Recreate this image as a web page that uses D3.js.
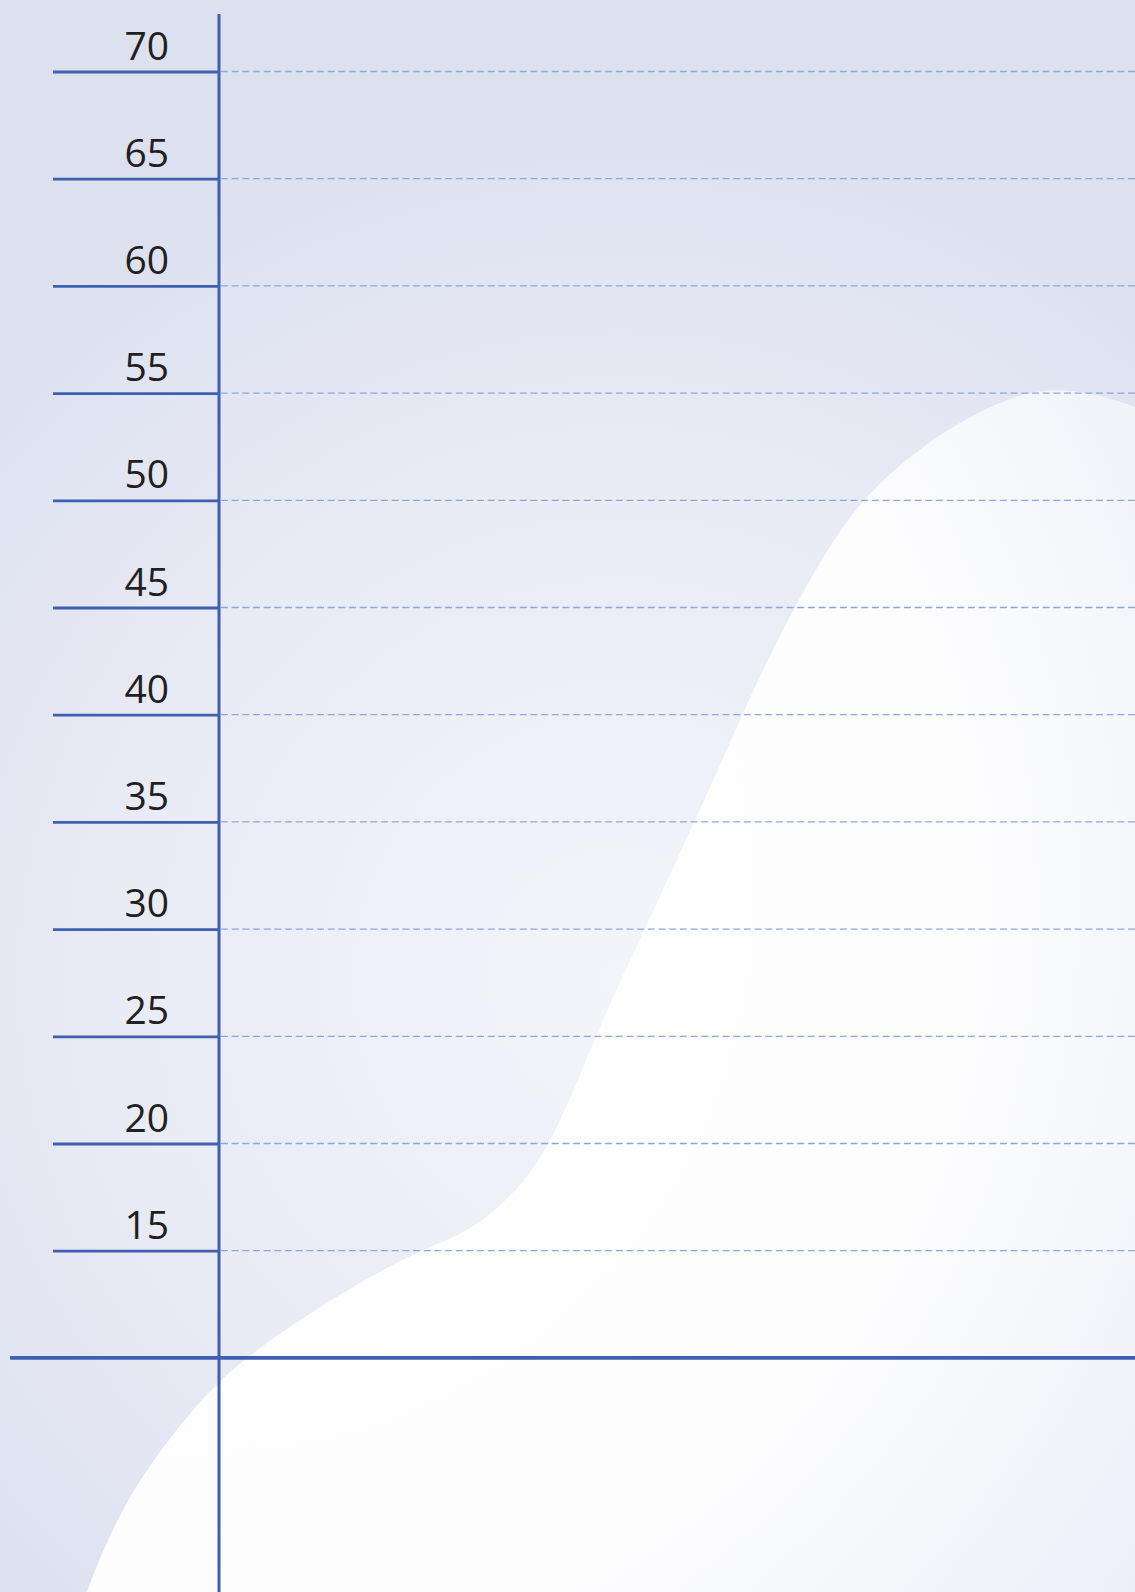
<!DOCTYPE html>
<html>
<head>
<meta charset="utf-8">
<script src="https://cdn.jsdelivr.net/npm/d3@7"></script>
<style>
  html, body { margin: 0; padding: 0; background: #dde1ef; }
  svg { display: block; }
</style>
</head>
<body>
<svg id="chart" width="1135" height="1592"></svg>
<script>
// Y axis tick values
const yTicks = [15, 20, 25, 30, 35, 40, 45, 50, 55, 60, 65, 70];

// Area series: position along the horizontal axis and value
const positions = [-16.3, -14.6, -10.0, -2.8, 2.3, 12.4, 21.6, 26.6, 31.8, 36.5, 41.5, 47.6,
                   54.7, 59.8, 65.6, 70.0, 76.2, 83.4, 90.7, 100, 104.9];
const values    = [-3.6, -0.9, 3.7, 7.7, 9.9, 12.8, 15.0, 15.7, 17.4, 20.0, 25.5, 31.0,
                   37.6, 42.6, 47.2, 50.0, 52.4, 54.3, 55.5, 54.5, 53.3];
const baseValue = -20;

const W = 1135, H = 1592;
const axisX = 219;

const svg = d3.select("#chart");
const defs = svg.append("defs");

// Soft radial backdrop
const bg = defs.append("radialGradient").attr("id", "bgGrad")
  .attr("gradientUnits", "userSpaceOnUse")
  .attr("cx", 620).attr("cy", 980).attr("r", 900);
bg.append("stop").attr("offset", "0").attr("stop-color", "#f4f5fa");
bg.append("stop").attr("offset", "0.55").attr("stop-color", "#e9ebf5");
bg.append("stop").attr("offset", "1").attr("stop-color", "#dce0ef");

// Area fill: white fading to pale blue toward the far edge
const ag = defs.append("radialGradient").attr("id", "areaGrad")
  .attr("gradientUnits", "userSpaceOnUse")
  .attr("cx", 200).attr("cy", 900).attr("r", 1400);
ag.append("stop").attr("offset", "0").attr("stop-color", "#ffffff");
ag.append("stop").attr("offset", "0.55").attr("stop-color", "#fdfdfe");
ag.append("stop").attr("offset", "0.95").attr("stop-color", "#e6e9f4");

svg.append("rect").attr("width", W).attr("height", H).attr("fill", "url(#bgGrad)");

const x = d3.scaleLinear().domain([0, 100]).range([axisX, W]);
const y = d3.scaleLinear().domain([10, 70]).range([1357.9, 71.5]);

const series = positions.map((p, i) => ({ p, v: values[i] }));

const area = d3.area()
  .x(d => x(d.p))
  .y0(() => y(baseValue))
  .y1(d => y(d.v))
  .curve(d3.curveBasis);

svg.append("path")
  .datum(series)
  .attr("d", area)
  .attr("fill", "url(#areaGrad)");

// Dashed gridlines
svg.append("g").selectAll("line")
  .data(yTicks)
  .join("line")
  .attr("x1", axisX + 2).attr("x2", W)
  .attr("y1", d => y(d)).attr("y2", d => y(d))
  .attr("stroke", "#88a9dd")
  .attr("stroke-width", 1.3)
  .attr("stroke-dasharray", "7 3.67");

// Left axis with long ticks and labels sitting on them
const yAxis = d3.axisLeft(y).tickValues(yTicks).tickSize(166).tickPadding(0);
const gAxis = svg.append("g")
  .attr("transform", `translate(${axisX},0)`)
  .call(yAxis);
gAxis.select(".domain").remove();
gAxis.selectAll(".tick line")
  .attr("stroke", "#3f5fb1")
  .attr("stroke-width", 2.8);
gAxis.selectAll(".tick text")
  .attr("x", -50)
  .attr("dy", -12.5)
  .attr("text-anchor", "end")
  .attr("fill", "#231f20")
  .style("font-family", "'Open Sans', 'Noto Sans', sans-serif")
  .style("font-weight", 500)
  .style("font-size", "39px");

// Vertical axis line
svg.append("line")
  .attr("x1", axisX).attr("x2", axisX)
  .attr("y1", 14).attr("y2", H)
  .attr("stroke", "#3f5fb1").attr("stroke-width", 3);

// Horizontal baseline at value 10
svg.append("line")
  .attr("x1", 10).attr("x2", W)
  .attr("y1", y(10)).attr("y2", y(10))
  .attr("stroke", "#3f5fb1").attr("stroke-width", 3.6);
</script>
</body>
</html>
